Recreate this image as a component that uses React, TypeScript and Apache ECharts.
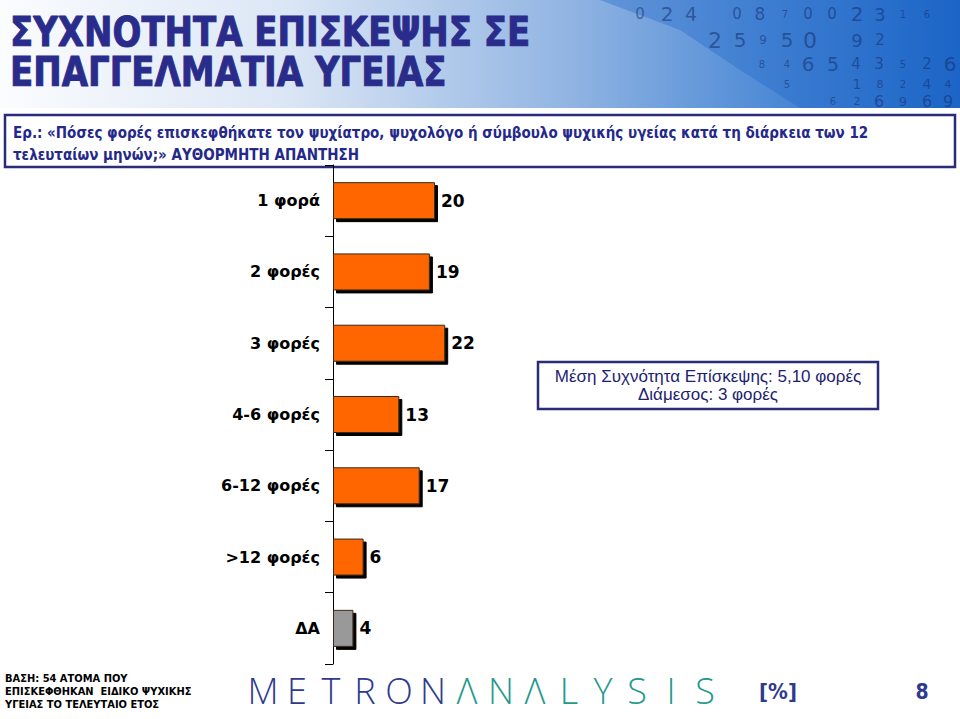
import React, { useEffect, useRef } from "react";
import * as echarts from "echarts";

const categories = ["1 φορά", "2 φορές", "3 φορές", "4-6 φορές", "6-12 φορές", ">12 φορές", "ΔΑ"];
const values = [20, 19, 22, 13, 17, 6, 4];
const noAnswerLabel = "ΔΑ";

const titleLines = ["ΣΥΧΝΟΤΗΤΑ ΕΠΙΣΚΕΨΗΣ ΣΕ", "ΕΠΑΓΓΕΛΜΑΤΙΑ ΥΓΕΙΑΣ"];
const questionLines = [
  "Ερ.: «Πόσες φορές επισκεφθήκατε τον ψυχίατρο, ψυχολόγο ή σύμβουλο ψυχικής υγείας κατά τη διάρκεια των 12",
  "τελευταίων μηνών;» ΑΥΘΟΡΜΗΤΗ ΑΠΑΝΤΗΣΗ",
];
const infoLines = ["Μέση Συχνότητα Επίσκεψης: 5,10 φορές", "Διάμεσος: 3 φορές"];
const baseLines = ["ΒΑΣΗ: 54 ΑΤΟΜΑ ΠΟΥ", "ΕΠΙΣΚΕΦΘΗΚΑΝ  ΕΙΔΙΚΟ ΨΥΧΙΚΗΣ", "ΥΓΕΙΑΣ ΤΟ ΤΕΛΕΥΤΑΙΟ ΕΤΟΣ"];
const logoLetters = ["M", "E", "T", "R", "O", "N", "Λ", "N", "Λ", "L", "Y", "S", "I", "S"];
const unitLabel = "[%]";
const pageNumber = "8";

// decorative digits in the header band: [char, x, y, size]
const headerDigits: [string, number, number, number][] = [
  ["0", 640, 14, 15], ["2", 667, 14, 20], ["4", 691, 14, 19], ["0", 737, 14, 15], ["8", 760, 14, 17],
  ["7", 785, 14, 10], ["0", 808, 14, 15], ["0", 832, 14, 15], ["2", 857, 14, 20], ["3", 880, 14, 18],
  ["1", 903, 14, 10], ["6", 927, 14, 10],
  ["2", 715, 40, 22], ["5", 740, 40, 20], ["9", 763, 40, 12], ["5", 787, 40, 20], ["0", 810, 40, 22],
  ["9", 857, 40, 18], ["2", 880, 40, 15],
  ["8", 762, 64, 10], ["4", 787, 64, 10], ["6", 808, 64, 20], ["5", 833, 64, 19], ["4", 856, 64, 15],
  ["3", 879, 64, 15], ["5", 903, 64, 10], ["2", 927, 64, 15], ["6", 950, 64, 20],
  ["5", 787, 84, 10], ["1", 857, 84, 14], ["8", 880, 84, 11], ["2", 903, 84, 10], ["4", 927, 84, 14],
  ["4", 948, 84, 11],
  ["6", 833, 101, 10], ["2", 857, 101, 11], ["6", 879, 101, 16], ["9", 903, 101, 13], ["6", 927, 101, 16],
  ["9", 948, 101, 16],
];

export default function App() {
  const ref = useRef<HTMLDivElement>(null);

  useEffect(() => {
    if (!ref.current) return;
    const chart = echarts.init(ref.current, undefined, { renderer: "svg" });
    const navy = "#2a2c8c";

    const graphics: any[] = [];
    // header band
    graphics.push({
      type: "rect",
      shape: { x: 0, y: 0, width: 960, height: 108 },
      style: {
        fill: new echarts.graphic.LinearGradient(0, 0, 1, 0, [
          { offset: 0, color: "#fbfcfe" },
          { offset: 0.3, color: "#dbe6f5" },
          { offset: 0.6, color: "#8fb3e2" },
          { offset: 0.8, color: "#4f8bd6" },
          { offset: 1, color: "#1c66c6" },
        ]),
      },
      z: 0,
    });
    graphics.push({
      type: "polygon",
      shape: { points: [[600, 0], [960, 0], [960, 108], [800, 108], [740, 70], [680, 30]] },
      style: { fill: "rgba(30,100,200,0.35)" },
      z: 0,
    });
    headerDigits.forEach(([c, x, y, s]) => {
      graphics.push({
        type: "text",
        x, y,
        style: {
          text: c, fontSize: s, fontFamily: "DejaVu Sans", fill: "rgba(20,45,105,0.55)",
          align: "center", verticalAlign: "middle",
        },
        z: 1,
      });
    });
    titleLines.forEach((t, i) => {
      graphics.push({
        type: "group",
        x: 10, y: 33 + i * 40,
        scaleX: 0.85,
        children: [{
          type: "text", x: 0, y: 0,
          style: {
            text: t, fontSize: 40, fontWeight: "bold", fontFamily: "DejaVu Sans",
            fill: navy, verticalAlign: "middle", align: "left",
            stroke: navy, lineWidth: 1,
          },
        }],
        z: 2,
      });
    });
    // question box
    graphics.push({
      type: "rect",
      shape: { x: 5, y: 115, width: 950, height: 52 },
      style: { fill: "#ffffff", stroke: "#2b2b7c", lineWidth: 2.5 },
      z: 3,
    });
    questionLines.forEach((t, i) => {
      graphics.push({
        type: "text", x: 13, y: 133 + i * 22,
        style: {
          text: t, fontSize: 15, fontWeight: "bold", fontFamily: "DejaVu Sans Condensed",
          fill: "#24288a", verticalAlign: "middle", align: "left",
        },
        z: 4,
      });
    });
    // info box
    graphics.push({
      type: "rect",
      shape: { x: 538, y: 362, width: 340, height: 47 },
      style: { fill: "#ffffff", stroke: "#2b2b7c", lineWidth: 2.5 },
      z: 3,
    });
    infoLines.forEach((t, i) => {
      graphics.push({
        type: "text", x: 708, y: 376 + i * 18,
        style: {
          text: t, fontSize: 17, fontFamily: "Liberation Sans",
          fill: "#1e1e70", verticalAlign: "middle", align: "center",
        },
        z: 4,
      });
    });
    // footer
    baseLines.forEach((t, i) => {
      graphics.push({
        type: "text", x: 5, y: 678 + i * 13,
        style: {
          text: t, fontSize: 11, fontWeight: "bold", fontFamily: "DejaVu Sans Condensed",
          fill: "#000000", verticalAlign: "middle", align: "left",
        },
        z: 4,
      });
    });
    logoLetters.forEach((c, i) => {
      graphics.push({
        type: "text", x: 263 + i * 34, y: 690,
        style: {
          text: c, fontSize: 36, fontWeight: 300, fontFamily: "Open Sans",
          fill: i < 6 ? "#2e3a8e" : "#1f9a8c", verticalAlign: "middle", align: "center",
        },
        z: 4,
      });
    });
    graphics.push({
      type: "text", x: 778, y: 691,
      style: {
        text: unitLabel, fontSize: 22, fontWeight: "bold", fontFamily: "DejaVu Sans Condensed",
        fill: "#2e3a8e", verticalAlign: "middle", align: "center",
      },
      z: 4,
    });
    graphics.push({
      type: "text", x: 922, y: 692,
      style: {
        text: pageNumber, fontSize: 21, fontWeight: "bold", fontFamily: "DejaVu Sans Condensed",
        fill: "#2e3a8e", verticalAlign: "middle", align: "center",
      },
      z: 4,
    });

    chart.setOption({
      animation: false,
      backgroundColor: "#ffffff",
      graphic: { elements: graphics },
      grid: { left: 333, right: 117, top: 165, bottom: 55 },
      xAxis: { type: "value", min: 0, max: 100, show: false },
      yAxis: {
        type: "category",
        data: categories,
        inverse: true,
        axisLine: { show: true, lineStyle: { color: "#000000", width: 1 } },
        axisTick: { show: true, length: 8, lineStyle: { color: "#000000" } },
        axisLabel: {
          color: "#000000", fontSize: 16, fontWeight: "bold", fontFamily: "DejaVu Sans", margin: 13,
        },
        z: 5,
      },
      series: [
        {
          type: "bar",
          barWidth: 37,
          data: values.map((v, i) => ({
            value: v,
            itemStyle: {
              color: categories[i] === noAnswerLabel ? "#999999" : "#ff6600",
            },
          })),
          itemStyle: {
            borderColor: "#3a2a1a",
            borderWidth: 1,
            shadowColor: "#000000",
            shadowOffsetX: 3,
            shadowOffsetY: 3,
            shadowBlur: 0,
          },
          label: {
            show: true, position: "right", distance: 6,
            color: "#000000", fontSize: 17, fontWeight: "bold", fontFamily: "DejaVu Sans",
          },
          z: 6,
        },
      ],
    });
    return () => chart.dispose();
  }, []);

  return <div ref={ref} style={{ position: "fixed", left: 0, top: 0, width: 960, height: 719 }} />;
}
